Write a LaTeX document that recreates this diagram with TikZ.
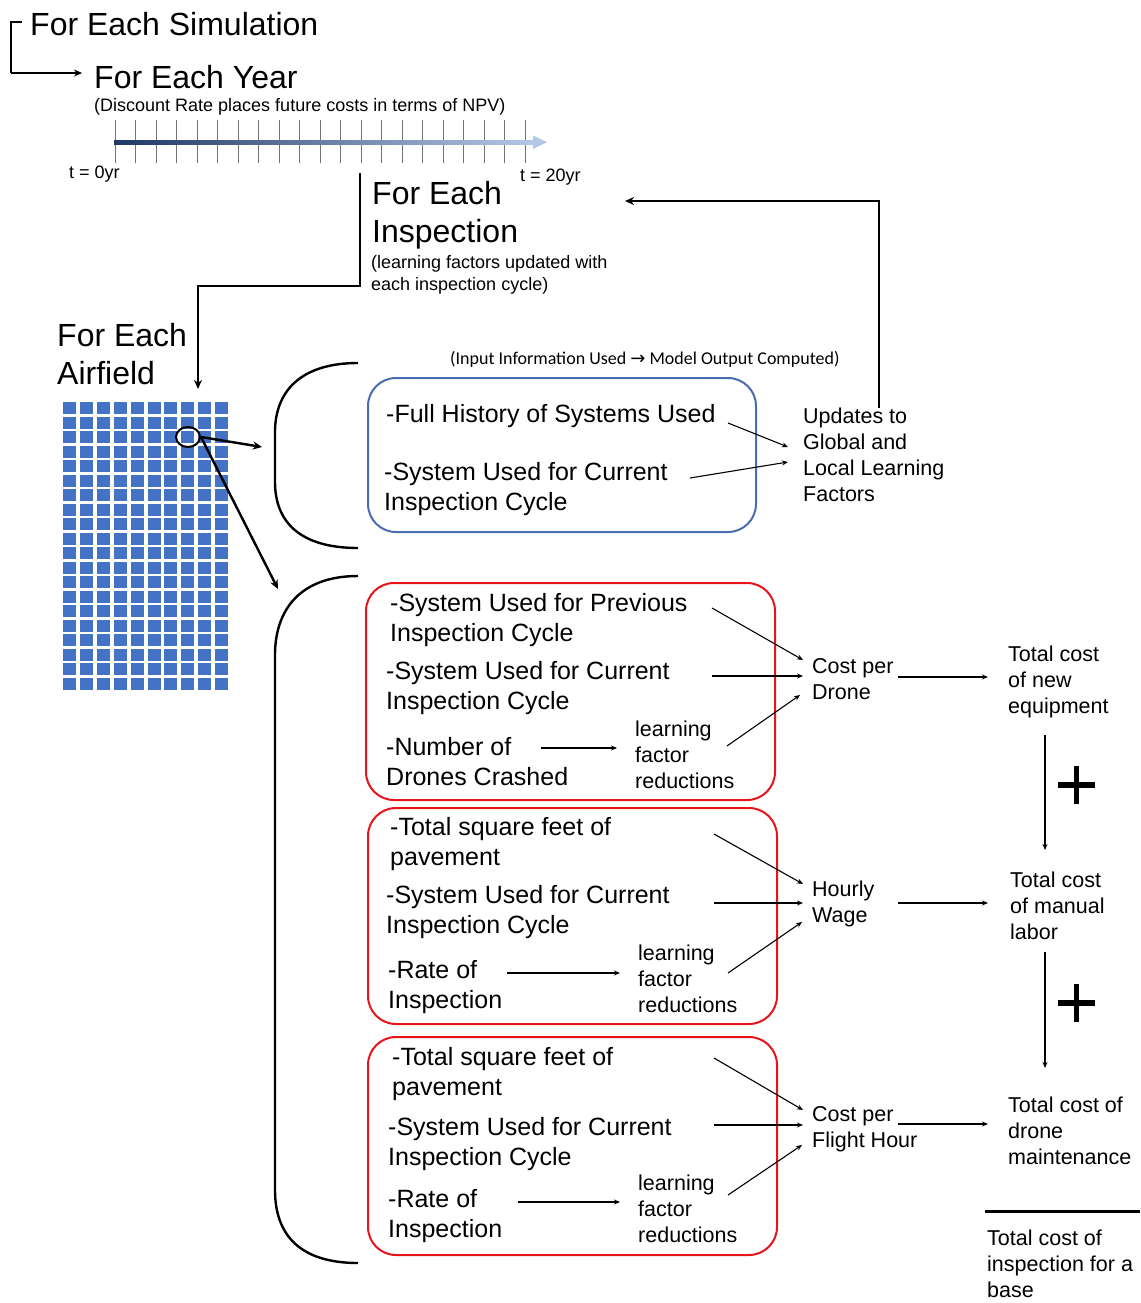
\documentclass[tikz,border=0pt]{standalone}
\usepackage{fontspec}
\setmainfont{Liberation Sans}
\newfontfamily\carl{Carlito}
\newfontfamily\djv{DejaVu Sans}
\usetikzlibrary{arrows.meta,shapes.geometric,calc}
\definecolor{bluebox}{HTML}{4A6CB3}
\definecolor{redbox}{HTML}{E8141C}
\definecolor{cell}{HTML}{4472C4}
\definecolor{navy}{HTML}{1F3864}
\definecolor{lblue}{HTML}{B4C7E7}
\begin{document}
\begin{tikzpicture}[x=1pt,y=-1pt,
 txt/.style={anchor=west, inner sep=0, align=left, yshift=-2pt},
 big/.style={txt, font=\fontsize{32}{38.5}\selectfont},
 mid/.style={txt, font=\fontsize{25}{30}\selectfont},
 sm/.style={txt, font=\fontsize{21.5}{26}\selectfont},
 xs/.style={txt, font=\fontsize{18}{22}\selectfont},
 thinarr/.style={-{Stealth[length=6,width=5]}, line width=1.1},
 flow/.style={line width=2.4},
 flowarr/.style={flow, -{Stealth[length=9,width=8]}},
 box/.style={draw, rounded corners=28, line width=2, inner sep=0}
]
\useasboundingbox (0,0) rectangle (1140,1303);

% --- titles
\node[big] (sim) at (30,22) {For Each Simulation};
\node[big] (year) at (94,75) {For Each Year};
\node[xs] (disc) at (94,105) {(Discount Rate places future costs in terms of NPV)};
\node[xs] (t0) at (69,172) {t = 0yr};
\node[xs] (t20) at (520,175) {t = 20yr};
\node[big] (insp) at (372,213) {For Each\\Inspection};
\node[xs] (lfu) at (371,273) {(learning factors updated with\\each inspection cycle)};
\node[big] (airf) at (57,352) {For Each\\Airfield};
\node[txt, font=\carl\fontsize{18}{22}\selectfont] (io) at (450,357) {(Input Information Used {\djv\fontsize{18}{20}\selectfont →} Model Output Computed)};

% --- simulation bracket
\coordinate (simw) at (22,22);
\draw[flow] (simw) -- (11,22) -- (11,73) coordinate (simc);
\draw[flow, -{Stealth[length=8,width=7]}] (simc) -- (82,73);

% --- timeline
\foreach \k in {0,...,20}
  \draw[black!55, line width=1] (115+20.5*\k,120) -- ++(0,43);
\shade[left color=navy, right color=lblue] (114,140) rectangle (535,144.5);
\fill[lblue] (533,135.5) -- (547,142.2) -- (533,149) -- cycle;

% --- inspection loop
\coordinate (ia) at (360,173);
\coordinate (ib) at (198,389);
\draw[flowarr] (ia) |- (198,286) -- (ib);

% --- airfield grid
\foreach \i in {0,...,9}
  \foreach \j in {0,...,19}
    \fill[cell] (63+16.9*\i, 402+14.5*\j) rectangle ++(13,12);
\node (eye) [draw, ellipse, line width=2, minimum width=24, minimum height=20, inner sep=0] at (188,437) {};
\coordinate (topin) at (262,447);
\coordinate (botin) at (278,589);
\draw[flowarr] (eye.east) -- (topin);
\draw[flowarr] (eye.east) -- (botin);

% --- brackets
\draw[flow] (358,363) .. controls (300,363) and (275,392) .. (275,432) -- (275,482) .. controls (275,522) and (300,548) .. (358,548);
\draw[flow] (358,576) .. controls (300,576) and (275,610) .. (275,655) -- (275,1190) .. controls (275,1235) and (300,1263) .. (358,1263);

% --- blue box
\node (bbox) [box, draw=bluebox, minimum width=388, minimum height=154] at (562,455) {};
\node[mid] (fh) at (386,414) {-Full History of Systems Used};
\node[mid] (sc0) at (384,487) {-System Used for Current\\Inspection Cycle};
\node[sm] (upd) at (803,453) {Updates to\\Global and\\Local Learning\\Factors};
\coordinate (fhe) at (728,423);
\coordinate (sc0e) at (690,478);
\draw[thinarr] (fhe) -- ([shift={(-15,-8)}]upd.west);
\draw[thinarr] (sc0e) -- ([shift={(-15,7)}]upd.west);
\coordinate (back) at (625,201);
\draw[flowarr] ([xshift=5]upd.north) |- (back);

% --- red box 1
\node (r1) [box, draw=redbox, minimum width=409, minimum height=217] at (570.5,691.5) {};
\node[mid] (t1a) at (390,618) {-System Used for Previous\\Inspection Cycle};
\node[mid] (t1b) at (386,686) {-System Used for Current\\Inspection Cycle};
\node[mid] (t1c) at (386,760) {-Number of\\Drones Crashed};
\node[sm] (lf1) at (635,753) {learning\\factor\\reductions};
\node[sm] (cpd) at (812,677) {Cost per\\Drone};
\node[sm] (tne) at (1008,680) {Total cost\\of new\\equipment};
\draw[thinarr] (712,608) -- ([shift={(-9,-19)}]cpd.west);
\draw[thinarr] (712,676) -- ([shift={(-9,-3)}]cpd.west);
\draw[thinarr] (727,746) -- ([shift={(-12,16)}]cpd.west);
\draw[thinarr] (541,748) -- ([xshift=-18]lf1.west |- 0,748);
\draw[thinarr] (898,677) -- ([xshift=-20]tne.west |- 0,677);

% --- red box 2
\node (r2) [box, draw=redbox, minimum width=409, minimum height=216] at (572.5,916) {};
\node[mid] (t2a) at (390,842) {-Total square feet of\\pavement};
\node[mid] (t2b) at (386,910) {-System Used for Current\\Inspection Cycle};
\node[mid] (t2c) at (388,985) {-Rate of\\Inspection};
\node[sm] (lf2) at (638,977) {learning\\factor\\reductions};
\node[sm] (hw) at (812,902) {Hourly\\Wage};
\node[sm] (tml) at (1010,904) {Total cost\\of manual\\labor};
\draw[thinarr] (714,834) -- ([shift={(-9,-20)}]hw.west);
\draw[thinarr] (714,903) -- ([shift={(-9,-1)}]hw.west);
\draw[thinarr] (728,973) -- ([shift={(-10,18)}]hw.west);
\draw[thinarr] (507,973) -- ([xshift=-18]lf2.west |- 0,973);
\draw[thinarr] (898,903) -- ([xshift=-22]tml.west |- 0,903);

% --- red box 3
\node (r3) [box, draw=redbox, minimum width=409, minimum height=218] at (572.5,1146) {};
\node[mid] (t3a) at (392,1072) {-Total square feet of\\pavement};
\node[mid] (t3b) at (388,1142) {-System Used for Current\\Inspection Cycle};
\node[mid] (t3c) at (388,1214) {-Rate of\\Inspection};
\node[sm] (lf3) at (638,1207) {learning\\factor\\reductions};
\node[sm] (cfh) at (812,1127) {Cost per\\Flight Hour};
\node[sm] (tdm) at (1008,1129) {Total cost of\\drone\\maintenance};
\draw[thinarr] (714,1058) -- ([shift={(-9,-19)}]cfh.west);
\draw[thinarr] (714,1125) -- ([shift={(-9,-4)}]cfh.west);
\draw[thinarr] (728,1195) -- ([shift={(-10,16)}]cfh.west);
\draw[thinarr] (518,1202) -- ([xshift=-18]lf3.west |- 0,1202);
\draw[thinarr] (898,1124) -- ([xshift=-20]tdm.west |- 0,1124);

% --- sums
\draw[thinarr] (1045,735) -- (1045,850);
\draw[thinarr] (1045,952) -- (1045,1068);
\foreach \py in {785,1003}{
  \draw[line width=5.5] (1058,\py) -- (1095,\py);
  \draw[line width=5.5] (1076.5,\py-19) -- (1076.5,\py+19);
}
\draw[line width=3] (985,1211) -- (1140,1211);
\node[sm, yshift=2pt] (tot) at (987,1264) {Total cost of\\inspection for a\\base};
\end{tikzpicture}
\end{document}
